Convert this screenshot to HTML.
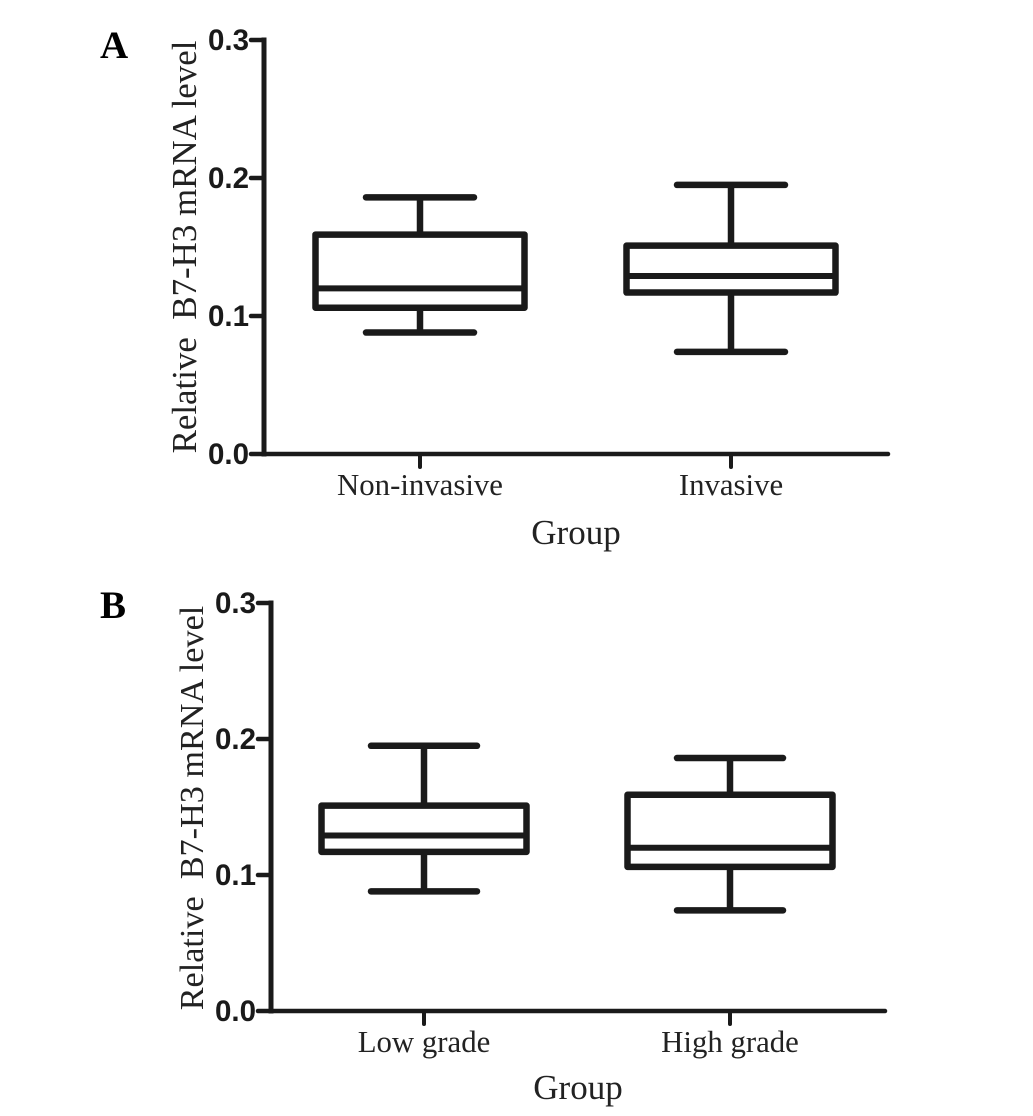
<!DOCTYPE html>
<html>
<head>
<meta charset="utf-8">
<style>
html,body{margin:0;padding:0;background:#fff;width:1033px;height:1116px;overflow:hidden}
svg{display:block}
.serif{font-family:"Liberation Serif",serif;fill:#222}
.tick{font-family:"Liberation Sans",sans-serif;font-weight:bold;font-size:29.5px;fill:#1a1a1a}
.panel{font-family:"Liberation Serif",serif;font-weight:bold;font-size:39px;fill:#000}
</style>
</head>
<body>
<svg id="figure" width="1033" height="1116" viewBox="0 0 1033 1116" xmlns="http://www.w3.org/2000/svg">
  <text class="panel" x="100" y="58">A</text>
  <text class="panel" x="100" y="618">B</text>
  <text class="serif" transform="translate(196,247) rotate(-90)" text-anchor="middle" font-size="34.9" xml:space="preserve">Relative  B7-H3 mRNA level</text>
  <text class="serif" transform="translate(203,808) rotate(-90)" text-anchor="middle" font-size="34.2" xml:space="preserve">Relative  B7-H3 mRNA level</text>
  <text class="serif" x="576" y="544" text-anchor="middle" font-size="35">Group</text>
  <text class="serif" x="578" y="1099" text-anchor="middle" font-size="35">Group</text>
</svg>
<script>
const yTicks = [0.0, 0.1, 0.2, 0.3];
const categoriesA = ["Non-invasive", "Invasive"];
const whiskerLowA = [0.088, 0.074];
const q1A = [0.106, 0.117];
const medianA = [0.12, 0.129];
const q3A = [0.159, 0.151];
const whiskerHighA = [0.186, 0.195];
const categoriesB = ["Low grade", "High grade"];
const whiskerLowB = [0.088, 0.074];
const q1B = [0.117, 0.106];
const medianB = [0.129, 0.12];
const q3B = [0.151, 0.159];
const whiskerHighB = [0.195, 0.186];

const NS = "http://www.w3.org/2000/svg";
const fig = document.getElementById("figure");

function line(x1, y1, x2, y2, w, cap) {
  const el = document.createElementNS(NS, "line");
  el.setAttribute("x1", x1);
  el.setAttribute("y1", y1);
  el.setAttribute("x2", x2);
  el.setAttribute("y2", y2);
  el.setAttribute("stroke", "#1a1a1a");
  el.setAttribute("stroke-width", w);
  el.setAttribute("stroke-linecap", cap || "round");
  fig.appendChild(el);
  return el;
}

function drawPanel(p, cats, lo, q1, med, q3, hi) {
  const yScale = function (v) { return p.y0 + (p.y3 - p.y0) * v / 0.3; };
  const xScale = function (i) { return p.centers[0] + (p.centers[1] - p.centers[0]) * i; };

  const yAxis = line(p.axisX, p.y3, p.axisX, p.y0, 5, "square");
  
  
  const xAxis = line(p.axisX, p.y0, p.axisEnd, p.y0, 4.5);
  
  

  yTicks.forEach(function (v) {
    const t = line(p.axisX - 13, yScale(v), p.axisX, yScale(v), 4.5);
    
    
    const label = document.createElementNS(NS, "text");
    
    
    label.setAttribute("class", "tick");
    label.setAttribute("x", p.axisX - 15);
    label.setAttribute("y", yScale(v) + 10);
    label.setAttribute("text-anchor", "end");
    label.textContent = v.toFixed(1);
    fig.appendChild(label);
  });

  cats.forEach(function (cat, i) {
    const cx = xScale(i);
    const xt = line(cx, p.y0, cx, p.y0 + 13, 4);
    
    

    const label = document.createElementNS(NS, "text");
    
    
    label.setAttribute("class", "serif");
    label.setAttribute("x", cx + (p.labelDx || 0));
    label.setAttribute("y", p.y0 + p.labelDy);
    label.setAttribute("text-anchor", "middle");
    label.setAttribute("font-size", "30.8");
    label.textContent = cat;
    fig.appendChild(label);

    const hw = p.boxHalf;
    const capHw = p.capHalf;

    const up = line(cx, yScale(q3[i]), cx, yScale(hi[i]), 6.5, "butt");
    
    
    const down = line(cx, yScale(q1[i]), cx, yScale(lo[i]), 6.5, "butt");
    
    
    const capHi = line(cx - capHw, yScale(hi[i]), cx + capHw, yScale(hi[i]), 6.5);
    
    
    const capLo = line(cx - capHw, yScale(lo[i]), cx + capHw, yScale(lo[i]), 6.5);
    
    

    const box = document.createElementNS(NS, "rect");
    
    
    box.setAttribute("x", cx - hw);
    box.setAttribute("y", yScale(q3[i]));
    box.setAttribute("width", hw * 2);
    box.setAttribute("height", yScale(q1[i]) - yScale(q3[i]));
    box.setAttribute("fill", "none");
    box.setAttribute("stroke", "#1a1a1a");
    box.setAttribute("stroke-width", "6.5");
    box.setAttribute("stroke-linejoin", "round");
    fig.appendChild(box);

    const m = line(cx - hw, yScale(med[i]), cx + hw, yScale(med[i]), 6, "butt");
    
    
  });
}

drawPanel(
  { id: "panel-a", axisX: 264, axisEnd: 888, y0: 454, y3: 40, centers: [420, 731], boxHalf: 104.5, capHalf: 54, labelDy: 41 },
  categoriesA, whiskerLowA, q1A, medianA, q3A, whiskerHighA
);
drawPanel(
  { id: "panel-b", axisX: 271, axisEnd: 885, y0: 1011, y3: 603, centers: [424, 730], boxHalf: 102.5, capHalf: 53, labelDy: 41 },
  categoriesB, whiskerLowB, q1B, medianB, q3B, whiskerHighB
);
</script>
</body>
</html>
